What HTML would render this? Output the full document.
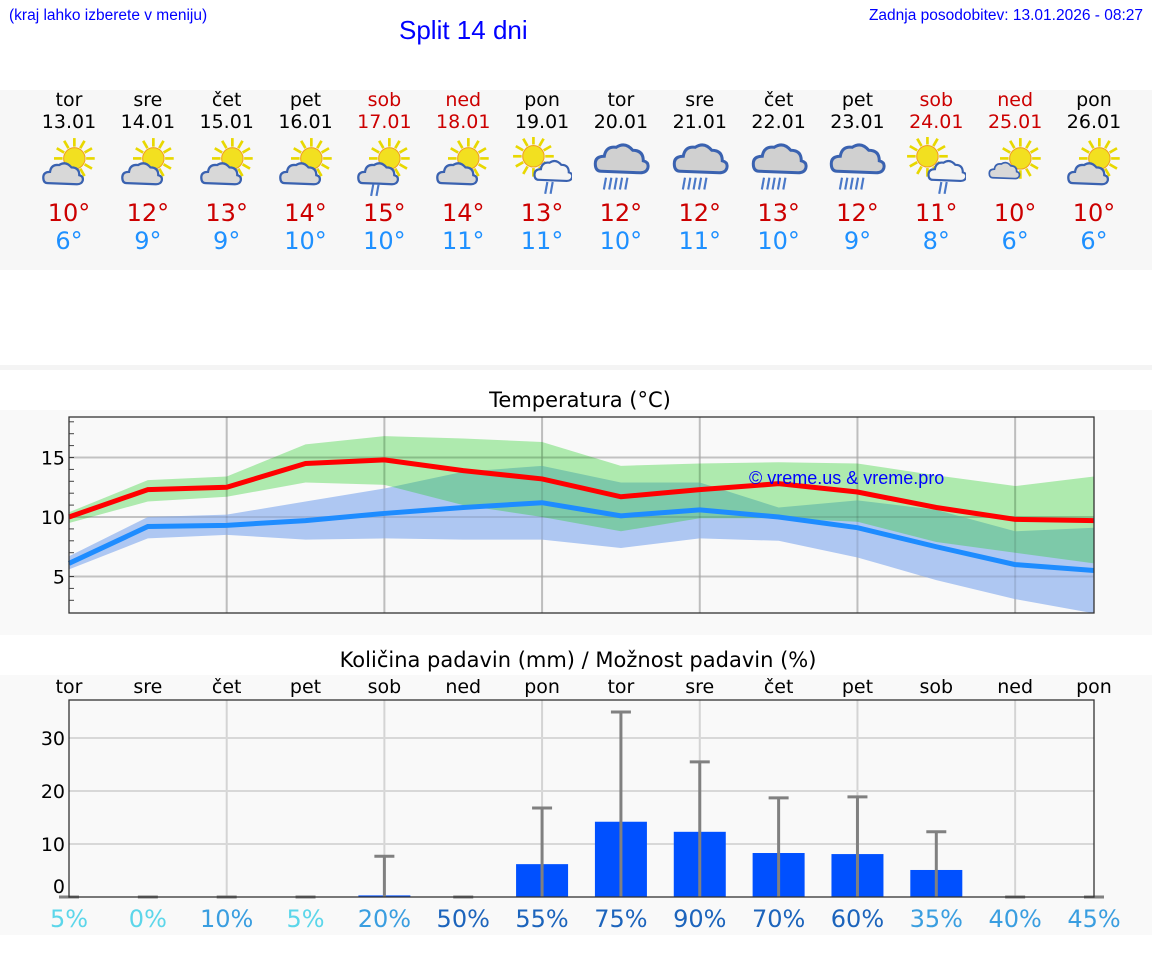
<!DOCTYPE html>
<html><head><meta charset="utf-8">
<style>
body{margin:0;width:1152px;height:975px;background:#fff;font-family:"Liberation Sans","DejaVu Sans",sans-serif;position:relative;overflow:hidden}
.abs{position:absolute}
.dv{font-family:"DejaVu Sans","Liberation Sans",sans-serif}
</style></head><body>
<div class="abs" style="left:9px;top:7px;font-size:15.5px;color:#0000ff">(kraj lahko izberete v meniju)</div>
<div class="abs" style="left:399px;top:15px;font-size:26px;color:#0000ff">Split 14 dni</div>
<div class="abs" style="right:9px;top:7px;font-size:15.5px;color:#0000ff">Zadnja posodobitev: 13.01.2026 - 08:27</div>
<div class="abs" style="left:0;top:90px;width:1152px;height:180px;background:#f7f7f7"></div>
<div class="abs" style="left:0;top:365px;width:1152px;height:5px;background:#f4f4f4"></div>
<div class="abs" style="left:0;top:410px;width:1152px;height:225px;background:#f9f9f9"></div>
<div class="abs" style="left:0;top:675px;width:1152px;height:260px;background:#f9f9f9"></div>
<div class="abs dv" style="left:0;width:1160px;text-align:center;top:388px;font-size:21px">Temperatura (°C)</div>
<div class="abs dv" style="left:0;width:1156px;text-align:center;top:648px;font-size:21px">Količina padavin (mm) / Možnost padavin (%)</div>
<div id="days"></div>
<svg id="tc" class="abs" style="left:0;top:0" width="1152" height="975"></svg>
<script>
const dayNames=["tor","sre","čet","pet","sob","ned","pon","tor","sre","čet","pet","sob","ned","pon"];
const dates=["13.01","14.01","15.01","16.01","17.01","18.01","19.01","20.01","21.01","22.01","23.01","24.01","25.01","26.01"];
const weekend=[0,0,0,0,1,1,0,0,0,0,0,1,1,0];
const maxT=[10,12,13,14,15,14,13,12,12,13,12,11,10,10];
const minT=[6,9,9,10,10,11,11,10,11,10,9,8,6,6];
const icons=["sc","sc","sc","sc","scr","sc","srl","cr","cr","cr","cr","srl","sc2","sc"];
const tMax=[10.0,12.3,12.5,14.5,14.8,13.9,13.2,11.7,12.3,12.8,12.1,10.8,9.8,9.7];
const tMin=[6.1,9.2,9.3,9.7,10.3,10.8,11.2,10.1,10.6,10.0,9.1,7.5,6.0,5.5];
const maxHi=[10.4,13.1,13.4,16.1,16.8,16.6,16.3,14.3,14.5,14.6,14.5,13.5,12.6,13.4];
const maxLo=[9.5,11.3,11.7,12.9,12.7,11.0,10.0,8.8,9.9,9.9,9.6,7.9,7.0,6.1];
const minHi=[6.7,10.0,10.2,11.3,12.4,13.8,14.3,12.9,12.9,10.8,11.4,10.6,8.8,9.1];
const minLo=[5.6,8.2,8.5,8.1,8.2,8.1,8.1,7.4,8.2,8.0,6.6,4.7,3.1,1.9];
const tTicks=[5,10,15];
const rain=[0,0,0,0,0.3,0,6.2,14.2,12.3,8.3,8.1,5.1,0,0];
const rainMax=[0,0,0,0,7.7,0,16.8,34.9,25.5,18.7,18.9,12.3,0,0];
const prob=[5,0,10,5,20,50,55,75,90,70,60,35,40,45];
const rTicks=[0,10,20,30];
const NS="http://www.w3.org/2000/svg";
const X0=69,X1=1094;
const xs=i=>X0+i*(X1-X0)/13;
const ty=t=>517-(t-10)*11.9;
const ry=v=>897-v*5.3;
const svg=document.getElementById('tc');
function el(tag,attrs,parent){const e=document.createElementNS(NS,tag);for(const k in attrs)e.setAttribute(k,attrs[k]);(parent||svg).appendChild(e);return e;}
const dd=document.getElementById('days');
function iconSvg(t){
 let s='<svg width="56" height="56" viewBox="0 0 56 56">';
 const sun=(cx,cy)=>{let r='';for(let a=0;a<12;a++){const an=a*Math.PI/6;r+=`<line x1="${cx+Math.cos(an)*11}" y1="${cy+Math.sin(an)*11}" x2="${cx+Math.cos(an)*19}" y2="${cy+Math.sin(an)*19}" stroke="#e8d800" stroke-width="2.5"/>`;}return r+`<circle cx="${cx}" cy="${cy}" r="10" fill="#f2e020" stroke="#f0a020" stroke-width="1"/>`;};
 const cloud=(x,y,sc,fill)=>`<g transform="translate(${x},${y}) scale(${sc})"><path d="M4 20 Q0 20 0 15 Q0 10 6 10 Q7 3 14 4 Q20 0 25 6 Q32 6 32 13 Q36 14 35 18 Q34 21 30 21 Z" fill="${fill}" stroke="#3a62b0" stroke-width="2"/></g>`;
 const drops=(x,y,n)=>{let r='';for(let k=0;k<n;k++)r+=`<line x1="${x+k*5+2}" y1="${y}" x2="${x+k*5}" y2="${y+11}" stroke="#4a78c8" stroke-width="2"/>`;return r;};
 if(t==="sc"||t==="scr"||t==="sc2"){s+=sun(33,20)+cloud(4,22,t==="sc2"?0.8:1.05,"#d8d8d8");if(t==="scr")s+=drops(16,44,2);}
 else if(t==="srl"){s+=sun(20,18)+cloud(21,20,1.0,"#f4f4f4")+drops(31,42,2);}
 else{s+=cloud(4,4,1.4,"#d0d0d0")+drops(12,38,5);}
 return s+'</svg>';
}
for(let i=0;i<14;i++){
 const c=document.createElement('div');
 
 
 c.className='abs dv';c.style.cssText=`left:${xs(i)-45}px;top:89px;width:90px;text-align:center;`;
 const col=weekend[i]?'#cc0000':'#000';
 c.innerHTML=`<div style="font-size:19px;line-height:22px;color:${col}">${dayNames[i]}</div><div style="font-size:19px;line-height:22px;color:${col}">${dates[i]}</div><div style="height:62px;margin-top:4px;display:flex;justify-content:center">${iconSvg(icons[i]).replace('width="56" height="56"','width="60" height="60"')}</div><div style="font-size:24px;line-height:28px;color:#cc0000">${maxT[i]}°</div><div style="font-size:24px;line-height:28px;color:#1e90ff">${minT[i]}°</div>`;
 dd.appendChild(c);
}
let g;
el('rect',{x:X0,y:417,width:X1-X0,height:196,fill:'#f9f9f9'});
for(let i=2;i<13;i+=2){g=el('line',{x1:xs(i),x2:xs(i),y1:417,y2:613,stroke:'#d4d4d4','stroke-width':2});}
tTicks.forEach(t=>{g=el('line',{x1:X0,x2:X1,y1:ty(t),y2:ty(t),stroke:'#d8d8d8','stroke-width':2});
 g=el('text',{x:X0-4,y:ty(t)+7,'text-anchor':'end','font-size':19,'font-family':'DejaVu Sans,sans-serif'});g.textContent=t;});
for(let t=3;t<=18;t++){el('line',{x1:X0,x2:X0+5,y1:ty(t),y2:ty(t),stroke:'#444','stroke-width':1});}
function band(hi,lo,fill,name){let d='M'+hi.map((v,i)=>xs(i)+','+ty(v)).join('L')+'L'+lo.map((v,i)=>xs(i)+','+ty(v)).reverse().join('L')+'Z';g=el('path',{d:d,fill:fill});}
band(minHi,minLo,'#aec7f2','min-temp-range');
band(maxHi,maxLo,'rgba(35,206,35,0.35)','max-temp-range');
for(let i=2;i<13;i+=2){el('line',{x1:xs(i),x2:xs(i),y1:417,y2:613,stroke:'rgba(0,0,0,0.1)','stroke-width':2});}
tTicks.forEach(t=>{el('line',{x1:X0,x2:X1,y1:ty(t),y2:ty(t),stroke:'rgba(0,0,0,0.1)','stroke-width':2});});
g=el('path',{d:'M'+tMin.map((v,i)=>xs(i)+','+ty(v)).join('L'),fill:'none',stroke:'#1e8cff','stroke-width':5});
g=el('path',{d:'M'+tMax.map((v,i)=>xs(i)+','+ty(v)).join('L'),fill:'none',stroke:'#ff0000','stroke-width':5});
g=el('text',{x:749,y:484,'font-size':18,fill:'#0000ff','font-family':'Liberation Sans,sans-serif'});g.textContent='© vreme.us & vreme.pro';
g=el('rect',{x:X0,y:417,width:X1-X0,height:196,fill:'none',stroke:'#333','stroke-width':1.3});
el('rect',{x:X0,y:700,width:X1-X0,height:197,fill:'#f9f9f9'});
for(let i=2;i<13;i+=2){g=el('line',{x1:xs(i),x2:xs(i),y1:700,y2:897,stroke:'#d4d4d4','stroke-width':2});}
rTicks.forEach(t=>{if(t>0){g=el('line',{x1:X0,x2:X1,y1:ry(t),y2:ry(t),stroke:'#d8d8d8','stroke-width':2});}
 g=el('text',{x:X0-4,y:(t===0?ry(t)-4:ry(t)+7),'text-anchor':'end','font-size':19,'font-family':'DejaVu Sans,sans-serif'});g.textContent=t;});
for(let i=0;i<14;i++){
 g=el('text',{x:xs(i),y:693,'text-anchor':'middle','font-size':19,'font-family':'DejaVu Sans,sans-serif'});g.textContent=dayNames[i];
 if(rain[i]>0){g=el('rect',{x:xs(i)-26,y:ry(rain[i]),width:52,height:ry(0)-ry(rain[i]),fill:'#0050ff'});}
 g=el('line',{x1:xs(i),x2:xs(i),y1:ry(0),y2:ry(rainMax[i]),stroke:'#808080','stroke-width':3});
 el('line',{x1:xs(i)-10,x2:xs(i)+10,y1:ry(rainMax[i]),y2:ry(rainMax[i]),stroke:'#808080','stroke-width':3});
 const p=prob[i];
 g=el('text',{x:xs(i),y:927,'text-anchor':'middle','font-size':24,fill:(p===10||p===20||p>=35&&p<50)?'#3a9ee0':(p<10?'#5cd6ea':'#1c64bc'),'font-family':'DejaVu Sans,sans-serif'});g.textContent=p+'%';
}
g=el('rect',{x:X0,y:700,width:X1-X0,height:197,fill:'none',stroke:'#333','stroke-width':1.3});
</script>
</body></html>
